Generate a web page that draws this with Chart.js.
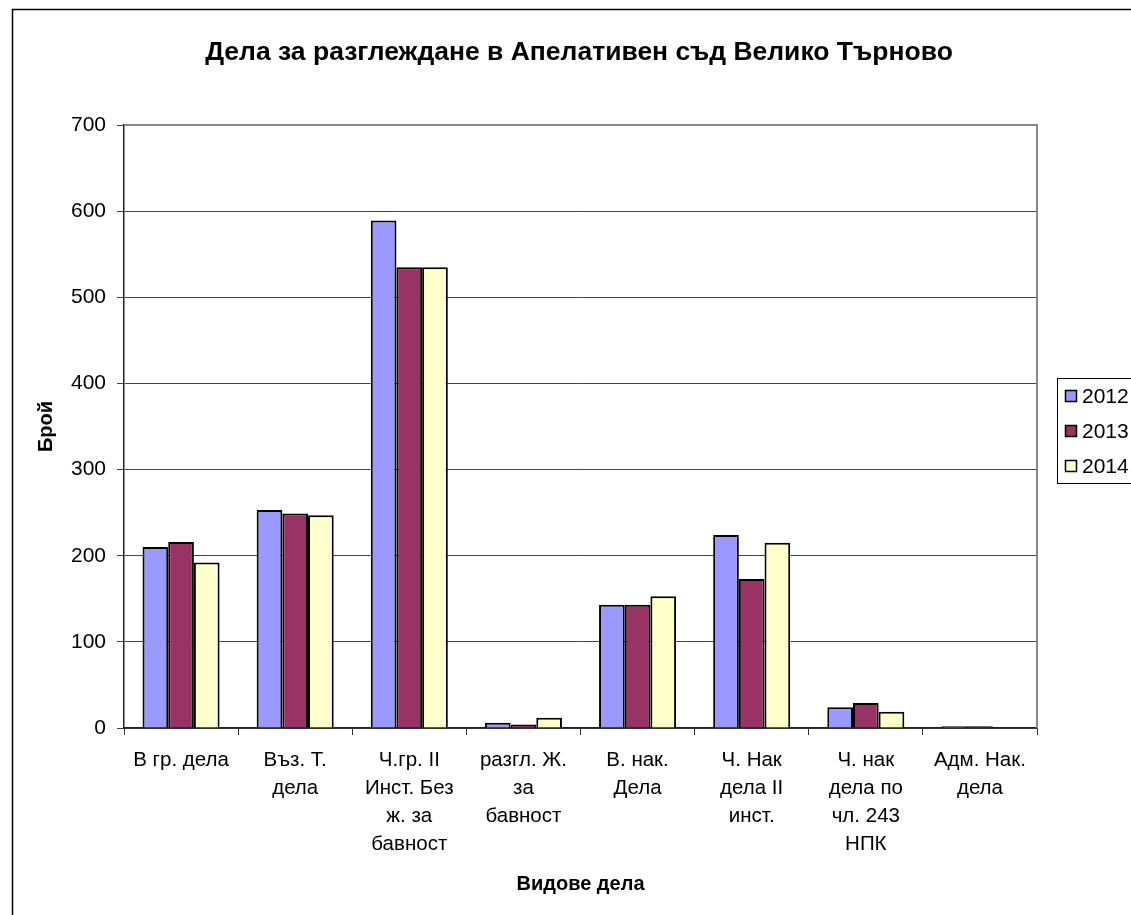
<!DOCTYPE html>
<html>
<head>
<meta charset="utf-8">
<script src="https://cdn.jsdelivr.net/npm/chart.js@4"></script>
<style>
  html, body { margin: 0; padding: 0; background: #fff; }
  #wrap { width: 1131px; height: 915px; position: relative; }
</style>
</head>
<body>
<div id="wrap"><canvas id="chart" width="1131" height="915"></canvas></div>
<script>
// chart data
const categories = [
  ['В гр. дела'],
  ['Въз. Т.', 'дела'],
  ['Ч.гр. II', 'Инст. Без', 'ж. за', 'бавност'],
  ['разгл. Ж.', 'за', 'бавност'],
  ['В. нак.', 'Дела'],
  ['Ч. Нак', 'дела II', 'инст.'],
  ['Ч. нак', 'дела по', 'чл. 243', 'НПК'],
  ['Адм. Нак.', 'дела']
];
const seriesNames = ['2012', '2013', '2014'];
const values2012 = [210, 253, 589, 6, 143, 224, 24, 2];
const values2013 = [216, 249, 535, 4, 143, 173, 29, 2];
const values2014 = [192, 247, 535, 12, 153, 215, 19, 0];
const seriesColors = ['#9999FF', '#993366', '#FFFFCC'];
const yTicks = [0, 100, 200, 300, 400, 500, 600, 700];

const chartTitle = 'Дела за разглеждане в Апелативен съд Велико Търново';
const FONT = 'Arial, "Liberation Sans", sans-serif';

// frame, title, plot border and legend drawn by hand
const decorations = {
  id: 'decorations',
  beforeDraw(chart) {
    const ctx = chart.ctx;
    ctx.save();
    ctx.fillStyle = '#fff';
    ctx.fillRect(0, 0, chart.width, chart.height);
    ctx.strokeStyle = '#000';
    ctx.lineWidth = 1.5;
    ctx.strokeRect(12.5, 9.5, chart.width + 20, chart.height + 20);
    ctx.fillStyle = '#000';
    ctx.font = 'bold 26.5px ' + FONT;
    ctx.textAlign = 'center';
    ctx.textBaseline = 'middle';
    ctx.fillText(chartTitle, 579, 53);
    ctx.restore();
  },
  afterDraw(chart) {
    const ctx = chart.ctx;
    const a = chart.chartArea;
    ctx.save();
    // plot area border (top / right)
    ctx.strokeStyle = '#888';
    ctx.lineWidth = 2;
    ctx.beginPath();
    ctx.moveTo(a.left, a.top);
    ctx.lineTo(a.right, a.top);
    ctx.lineTo(a.right, a.bottom);
    ctx.stroke();

    // legend
    const lx = 1057, ly = 378, lw = 120, lh = 105;
    ctx.fillStyle = '#fff';
    ctx.fillRect(lx, ly, lw, lh);
    ctx.strokeStyle = '#000';
    ctx.lineWidth = 1;
    ctx.strokeRect(lx + 0.5, ly + 0.5, lw, lh);
    ctx.font = '21px ' + FONT;
    ctx.textAlign = 'left';
    ctx.textBaseline = 'middle';
    chart.data.datasets.forEach((ds, i) => {
      const cy = ly + 18 + i * 35;
      ctx.fillStyle = ds.backgroundColor;
      ctx.fillRect(lx + 8, cy - 6, 12, 12);
      ctx.strokeStyle = '#000';
      ctx.lineWidth = 1.5;
      ctx.strokeRect(lx + 8.5, cy - 5.5, 11, 11);
      ctx.fillStyle = '#000';
      ctx.fillText(ds.label, lx + 25, cy + 1);
    });
    ctx.restore();
  }
};

const ctx = document.getElementById('chart').getContext('2d');
new Chart(ctx, {
  type: 'bar',
  data: {
    labels: categories,
    datasets: [
      { label: seriesNames[0], data: values2012, backgroundColor: seriesColors[0] },
      { label: seriesNames[1], data: values2013, backgroundColor: seriesColors[1] },
      { label: seriesNames[2], data: values2014, backgroundColor: seriesColors[2] }
    ].map(d => Object.assign(d, {
      borderColor: '#000',
      borderWidth: 2,
      categoryPercentage: 0.675,
      barPercentage: 1
    }))
  },
  options: {
    responsive: false,
    animation: false,
    devicePixelRatio: 1,
    layout: { padding: { left: 20, right: 94, top: 125, bottom: 0 } },
    plugins: {
      legend: { display: false },
      title: { display: false },
      tooltip: { enabled: false }
    },
    scales: {
      x: {
        afterFit(scale) { scale.height = 187; },
        grid: { offset: true, drawOnChartArea: false, tickLength: 7, color: '#333' },
        border: { color: '#222', width: 1.5 },
        ticks: {
          autoSkip: false, maxRotation: 0, color: '#000', padding: 12,
          font: { family: FONT, size: 20.5, lineHeight: 1.35 }
        },
        title: {
          display: true, text: 'Видове дела', color: '#000',
          font: { family: FONT, size: 20, weight: 'bold' },
          padding: { top: 0, bottom: 19 }
        }
      },
      y: {
        min: 0, max: 700,
        afterFit(scale) { scale.width = 104; },
        afterBuildTicks(scale) { scale.ticks = yTicks.map(v => ({ value: v })); },
        grid: { color: '#444', tickLength: 7, lineWidth: 1 },
        border: { color: '#222', width: 1.5 },
        ticks: {
          color: '#000', padding: 11,
          font: { family: FONT, size: 21 }
        },
        title: {
          display: true, text: 'Брой', color: '#000',
          font: { family: FONT, size: 20, weight: 'bold' },
          padding: { top: 14, bottom: 0 }
        }
      }
    }
  },
  plugins: [decorations]
});
</script>
</body>
</html>
